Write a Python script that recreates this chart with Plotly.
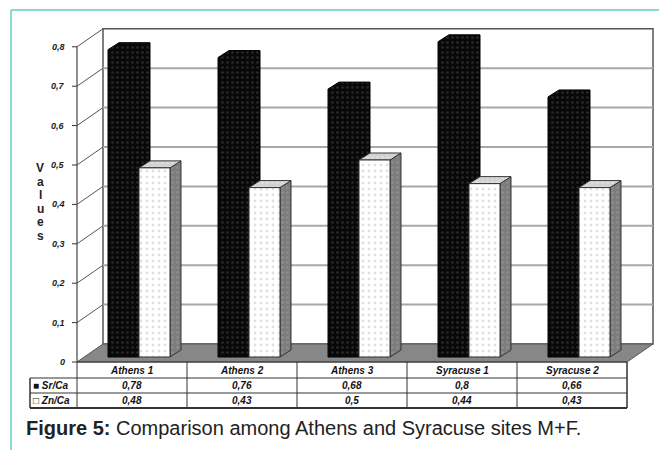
import plotly.graph_objects as go

# ---- data -------------------------------------------------------------
categories = ["Athens 1", "Athens 2", "Athens 3", "Syracuse 1", "Syracuse 2"]
sr_ca = [0.78, 0.76, 0.68, 0.80, 0.66]
zn_ca = [0.48, 0.43, 0.50, 0.44, 0.43]
series_names = ["Sr/Ca", "Zn/Ca"]
y_ticks = [0.0, 0.1, 0.2, 0.3, 0.4, 0.5, 0.6, 0.7, 0.8]
axis_title = "Values"
caption_bold = "Figure 5:"
caption_rest = " Comparison among Athens and Syracuse sites M+F."

# ---- geometry (pixels) ------------------------------------------------
W, H = 659, 450
X_ORIGIN = 77          # pixel x of the left edge of the first category
Y_ORIGIN = 362         # pixel y of value 0 on the front plane
CAT_PX = 110           # pixels per category
UNIT_PX = 394          # pixels per 1.0 of value
WALL_DX, WALL_DY = 26, 18      # depth of the back wall
BAR_OFF_DX, BAR_OFF_DY = 7, 5  # bars stand half way into the floor
BAR_W = 31                     # width of one bar face
BAR_DX, BAR_DY = 11, 7         # bar depth


def dx(p):
    return p / CAT_PX


def dy(p):
    return p / UNIT_PX


def px_x(p):
    return (p - X_ORIGIN) / CAT_PX


def px_y(p):
    return (Y_ORIGIN - p) / UNIT_PX


n = len(categories)
fig = go.Figure()


def poly(xs, ys, fill, line_color="#111", width=1, pattern=None):
    kw = dict(x=list(xs) + [xs[0]], y=list(ys) + [ys[0]], mode="lines",
              fill="toself", fillcolor=fill,
              line=dict(color=line_color, width=width),
              hoverinfo="skip", showlegend=False)
    if pattern:
        kw["fillpattern"] = pattern
    fig.add_trace(go.Scatter(**kw))


def line(xs, ys, color, width=1):
    fig.add_trace(go.Scatter(x=xs, y=ys, mode="lines",
                             line=dict(color=color, width=width),
                             hoverinfo="skip", showlegend=False))


wx, wy = dx(WALL_DX), dy(WALL_DY)
top = y_ticks[-1]

# back wall
poly([wx, n + wx, n + wx, wx], [wy, wy, top + wy, top + wy], "white",
     line_color="#555", width=1.5)

# gridlines on the back wall and connectors to the front axis
for t in y_ticks[1:-1]:
    line([wx, n + wx], [t + wy, t + wy], "#a8a8a8", 2)
for t in y_ticks[1:]:
    line([0, wx], [t, t + wy], "#555", 1)
    line([dx(-5), 0], [t, t], "#333", 1)
line([dx(-5), 0], [0, 0], "#333", 1)

# floor
poly([0, n, n + wx, wx], [0, 0, wy, wy], "#878787", line_color="#555", width=1)

# front value axis
line([0, 0], [0, top], "#444", 1.2)

# bars
black_pat = dict(shape=".", bgcolor="#080808", fgcolor="#4a4a4a",
                 size=5, solidity=0.22)
white_pat = dict(shape=".", bgcolor="#ffffff", fgcolor="#c4c4c4",
                 size=6, solidity=0.18)
top_pat = dict(shape=".", bgcolor="#d2d2d2", fgcolor="#f0f0f0",
               size=5, solidity=0.22)
side_pat = dict(shape=".", bgcolor="#7d7d7d", fgcolor="#a0a0a0",
                size=5, solidity=0.22)

bw = dx(BAR_W)
bdx, bdy = dx(BAR_DX), dy(BAR_DY)
base = dy(BAR_OFF_DY)
for i in range(n):
    xc = i + 0.5 + dx(BAR_OFF_DX)
    # Sr/Ca prism, solid black
    x0, x1 = xc - bw, xc
    yt = base + sr_ca[i]
    poly([x0, x0, x0 + bdx, x1 + bdx, x1 + bdx, x1],
         [base, yt, yt + bdy, yt + bdy, base + bdy, base],
         "#080808", line_color="#000", width=1, pattern=black_pat)
    # Zn/Ca prism: front, top and side faces
    x0, x1 = xc, xc + bw
    yt = base + zn_ca[i]
    poly([x1, x1 + bdx, x1 + bdx, x1],
         [base, base + bdy, yt + bdy, yt], "#7d7d7d",
         line_color="#333", width=1, pattern=side_pat)
    poly([x0, x0 + bdx, x1 + bdx, x1],
         [yt, yt + bdy, yt + bdy, yt], "#d2d2d2",
         line_color="#333", width=1, pattern=top_pat)
    poly([x0, x1, x1, x0], [base, base, yt, yt], "white",
         line_color="#333", width=1, pattern=white_pat)

# ---- data table under the chart -------------------------------------
ann = []
shapes = []
row_top = [362, 378, 393, 408]
tbl_left = 30
tbl_right = X_ORIGIN + n * CAT_PX


def hline(y, x0, x1, w=1, c="#333"):
    shapes.append(dict(type="line", xref="x", yref="y", x0=px_x(x0), x1=px_x(x1),
                       y0=px_y(y), y1=px_y(y), line=dict(color=c, width=w)))


def vline(x, y0, y1, w=1, c="#333"):
    shapes.append(dict(type="line", xref="x", yref="y", x0=px_x(x), x1=px_x(x),
                       y0=px_y(y0), y1=px_y(y1), line=dict(color=c, width=w)))


hline(row_top[0], X_ORIGIN, tbl_right, 1.2)
hline(row_top[1], tbl_left, tbl_right, 1)
hline(row_top[2], tbl_left, tbl_right, 1)
hline(row_top[3], tbl_left, tbl_right, 2)
vline(tbl_left, row_top[1], row_top[3], 1.5)
for i in range(n + 1):
    vline(X_ORIGIN + i * CAT_PX, row_top[0], row_top[3], 1.5 if i == n else 1)

cell_font = dict(family="Liberation Sans, Arial", size=10, color="#111")


def cell(text, xc, row, **kw):
    ann.append(dict(x=xc, y=px_y((row_top[row] + row_top[row + 1]) / 2),
                    xref="x", yref="y", text=text, showarrow=False,
                    font=cell_font, **kw))


for i, c in enumerate(categories):
    cell(f"<b><i>{c}</i></b>", i + 0.5, 0)
    cell(f"<b><i>{sr_ca[i]:g}</i></b>".replace(".", ","), i + 0.5, 1)
    cell(f"<b><i>{zn_ca[i]:g}</i></b>".replace(".", ","), i + 0.5, 2)

for r, (mark, name) in enumerate(zip(["■", "□"], series_names), start=1):
    cell(f"{mark} <b><i>{name}</i></b>", px_x(tbl_left + 1), r,
         xanchor="left")

# tick labels
for t in y_ticks:
    lab = f"{t:g}".replace(".", ",")
    ann.append(dict(x=px_x(67), y=t, xref="x", yref="y", xanchor="right",
                    text=f"<b><i>{lab}</i></b>", showarrow=False,
                    font=dict(family="Liberation Sans, Arial", size=9,
                              color="#222")))

# stacked axis title
for k, ch in enumerate(axis_title):
    ann.append(dict(x=px_x(40), y=px_y(168 + 13.6 * k), xref="x", yref="y",
                    text=f"<b>{ch}</b>", showarrow=False,
                    font=dict(family="Liberation Sans, Arial", size=12,
                              color="#222")))

# caption
ann.append(dict(x=px_x(24), y=px_y(428), xref="x", yref="y", xanchor="left",
                text=f"<b>{caption_bold}</b>{caption_rest}", showarrow=False,
                font=dict(family="Liberation Sans, Arial", size=20,
                          color="#222")))

# teal frame
teal = "#5fd0bf"
shapes.append(dict(type="line", xref="paper", yref="paper",
                   x0=11 / W, x1=11 / W, y0=1 - 10 / H, y1=0,
                   line=dict(color=teal, width=1.5)))
shapes.append(dict(type="line", xref="paper", yref="paper",
                   x0=11 / W, x1=1, y0=1 - 10 / H, y1=1 - 10 / H,
                   line=dict(color=teal, width=1.5)))

fig.update_layout(
    width=W, height=H, autosize=False,
    margin=dict(l=0, r=0, t=0, b=0),
    paper_bgcolor="white", plot_bgcolor="white",
    showlegend=False,
    xaxis=dict(range=[px_x(0), px_x(W)], visible=False, fixedrange=True),
    yaxis=dict(range=[px_y(H), px_y(0)], visible=False, fixedrange=True),
    annotations=ann, shapes=shapes,
)

fig.write_html("out.html")
